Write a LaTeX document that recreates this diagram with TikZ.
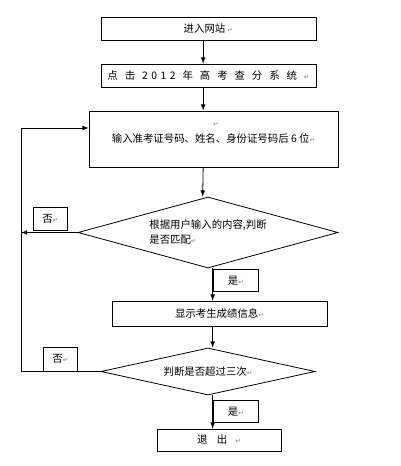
\documentclass[tikz,border=0pt]{standalone}
\usepackage{fontspec}
\newfontfamily\cjk{Noto Sans CJK SC}
\newfontfamily\markfont{DejaVu Sans}
\usetikzlibrary{shapes.geometric,arrows}
\newcommand{\pmark}{{\markfont\color{gray}\fontsize{5}{5}\selectfont ↵}}
\newcommand{\ls}{\hspace{2.6pt}}

\begin{document}
\begin{tikzpicture}[x=0.75pt,y=-0.75pt,>=latex,
    font=\cjk\fontsize{7.8}{11.25}\selectfont,
    every path/.style={line width=0.6pt}]
  \tikzset{stepbox/.style={draw,inner sep=0pt,line width=0.6pt},
           choice/.style={draw,diamond,inner sep=0pt,line width=0.6pt},
           tag/.style={draw,inner sep=0pt,line width=0.6pt,minimum height=16.5pt}}
  \useasboundingbox (0,0) rectangle (400,466);

  \node[stepbox,minimum width=161.25pt,minimum height=17.25pt] (s1) at (208.5,28.5) {进入网站 \pmark};
  \node[stepbox,minimum width=161.25pt,minimum height=17.25pt] (s2) at (208.5,75.5)
       {点\ls\ls 击\ls\ls 2\ls 0\ls 1\ls 2\ls\ls 年\ls\ls 高\ls\ls 考\ls\ls 查\ls\ls 分\ls\ls 系\ls\ls 统\ls\ls\pmark};
  \node[stepbox,minimum width=186.75pt,minimum height=42pt] (s3) at (213.5,139)
       {输入准考证号码、姓名、身份证号码后 6 位\pmark};
  \node (m0) at (216,124) {\pmark};
  \node[choice,aspect=3.66,minimum width=195pt,minimum height=53.25pt,align=left] (d1) at (208,232.5)
       {根据用户输入的内容,判断\\是否匹配\pmark};
  \node[stepbox,minimum width=161.25pt,minimum height=18.75pt] (s4) at (219.5,313.5) {显示考生成绩信息\pmark};
  \node[choice,aspect=4.55,minimum width=160.5pt,minimum height=35.25pt] (d2) at (208,371.5) {判断是否超过三次\pmark};
  \node[stepbox,minimum width=93pt,minimum height=16.5pt] (s5) at (219,440) {退\hspace{7pt}出\hspace{6pt}\pmark};

  \node[tag,minimum width=33.75pt,anchor=north west] (y1) at (213,269) {是\pmark};
  \node[tag,minimum width=33.75pt,anchor=north west] (y2) at (213,400) {是\pmark};
  \node[tag,minimum width=25.5pt,minimum height=17.25pt,anchor=south west] (n1) at (33,230.5) {否\pmark};
  \node[tag,minimum width=25.5pt,minimum height=18pt,anchor=south west] (n2) at (43,371.5) {否\pmark};

  \coordinate (lt) at (21,128);

  \draw[->] ([xshift=-4pt]s1.south) -- ([xshift=-4pt]s2.north);
  \draw[->] ([xshift=-4pt]s2.south) -- ([xshift=-4pt]s2.south |- s3.north);
  \draw[->] ([xshift=-4pt]s2.south |- s3.south) -- ([xshift=-4pt]d1.north);
  \draw[->] ([xshift=3.5pt]d1.south) -- ([xshift=3.5pt]d1.south |- s4.north);
  \draw[->] ([xshift=3.5pt]d1.south |- s4.south) -- ([xshift=3.5pt]d2.north);
  \draw[->] ([xshift=3.5pt]d2.south) -- ([xshift=3.5pt]d2.south |- s5.north);

  \draw[->] (d1.west) -- (d1.west -| lt);
  \draw (d2.west) -- (d2.west -| lt) -- (lt);
  \draw[->] (lt) -- (lt -| s3.west);
\end{tikzpicture}
\end{document}
